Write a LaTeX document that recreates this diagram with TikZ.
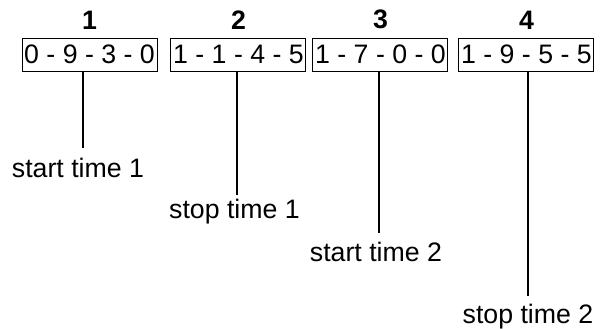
\documentclass[tikz,border=0pt]{standalone}
\usepackage{fontspec}
\setmainfont{Liberation Sans}
\usetikzlibrary{positioning}
\tikzset{
  digitbox/.style={
    rectangle, draw=black, line width=0.7pt,
    minimum width=3.375cm, minimum height=0.825cm,
    font=\fontsize{19}{23}\selectfont, inner sep=0pt
  },
  indexlabel/.style={
    font=\fontsize{19}{23}\selectfont\bfseries, inner sep=0pt
  },
  timelabel/.style={
    font=\fontsize{19}{23}\selectfont, inner sep=0pt, anchor=north
  },
  tickline/.style={line width=1.4pt, color=black},
}

\begin{document}
\begin{tikzpicture}[node distance=0.2cm]
  \useasboundingbox (0,0) rectangle (15.175,-8.225);
  \node[digitbox] at (2.2375,-1.3625) (box1) {0 - 9 - 3 - 0};
  \node[digitbox, right=0.325cm of box1] (box2) {1 - 1 - 4 - 5};
  \node[digitbox, right=0.15cm of box2] (box3) {1 - 7 - 0 - 0};
  \node[digitbox, right=0.25cm of box3] (box4) {1 - 9 - 5 - 5};
  \node[indexlabel, above=of box1] (idx1) {1};
  \node[indexlabel, above=of box2] (idx2) {2};
  \node[indexlabel, above=of box3] (idx3) {3};
  \node[indexlabel, above=of box4] (idx4) {4};
  \coordinate (end1) at (2.075,-3.7);
  \coordinate (end2) at (5.925,-4.875);
  \coordinate (end3) at (9.475,-5.825);
  \coordinate (end4) at (13.2,-7.4);
  \draw[tickline] (box1.south -| end1) -- (end1);
  \draw[tickline] (box2.south -| end2) -- (end2);
  \draw[tickline] (box3.south -| end3) -- (end3);
  \draw[tickline] (box4.south -| end4) -- (end4);
  \node[timelabel] at ([xshift=-0.125cm, yshift=-0.25cm]end1) (time1) {start time 1};
  \node[timelabel] at ([xshift=-0.0625cm, yshift=-0.1cm]end2) (time2) {stop time 1};
  \node[timelabel] at ([xshift=-0.075cm, yshift=-0.225cm]end3) (time3) {start time 2};
  \node[timelabel] at ([yshift=-0.2cm]end4) (time4) {stop time 2};
\end{tikzpicture}
\end{document}
